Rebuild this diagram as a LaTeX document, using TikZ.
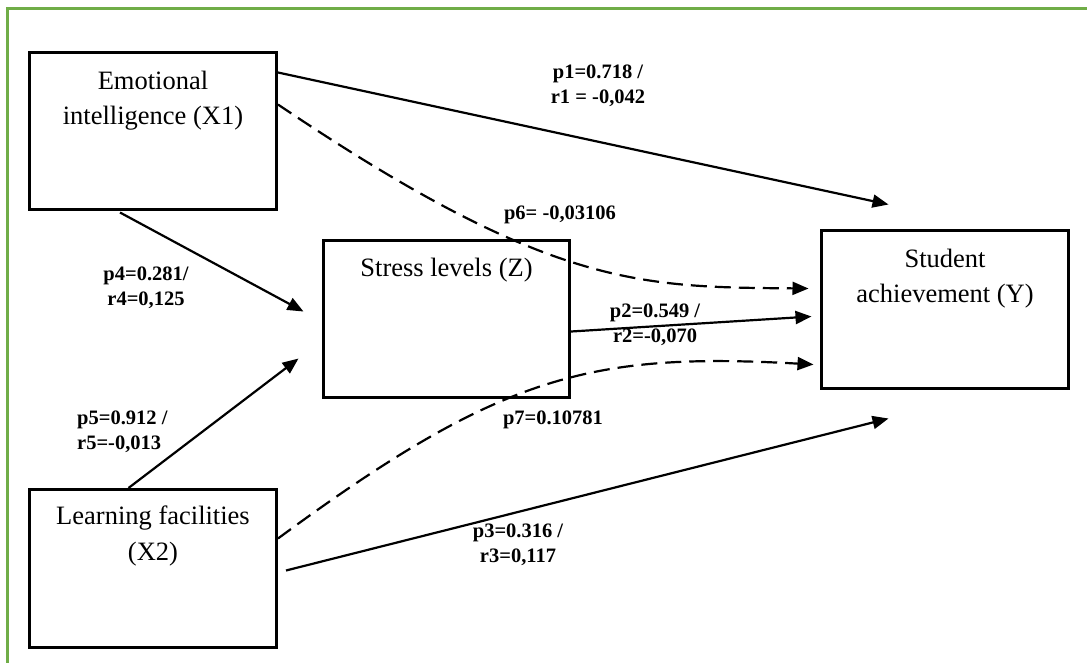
\documentclass[tikz,border=0pt]{standalone}
\usepackage{fontspec}
\setmainfont{Liberation Serif}
\usetikzlibrary{arrows.meta,calc}
\definecolor{framegreen}{HTML}{70AD47}
\begin{document}
\begin{tikzpicture}[x=1pt,y=-1pt,
  box/.style={draw=black, line width=3pt, minimum width=247pt, minimum height=157pt, inner sep=0pt, anchor=north west},
  boxtext/.style={font=\fontsize{26.5}{35.5}\selectfont, align=center, anchor=north, inner sep=0pt},
  lab/.style={font=\fontsize{20.5}{25}\selectfont\bfseries, align=center, inner sep=0pt},
  conn/.style={line width=2.2pt, -{Triangle[length=16pt,width=13pt]}},
  dconn/.style={conn, dash pattern=on 16pt off 8pt},
]
\clip (0,0) rectangle (1087,662);
\fill[white] (0,0) rectangle (1087,662);
\draw[framegreen, line width=3pt] (7,8) rectangle (1120,700);

% boxes
\node[box] (X1) at (28,51) {};
\node[box, minimum height=158pt] (X2) at (28,488) {};
\node[box, minimum width=246pt] (Z) at (322,239) {};
\node[box, minimum height=158pt] (Y) at (820,229) {};

% box texts
\node[boxtext] (X1t) at ($(X1.north)+(0,19.5)$) {Emotional\\intelligence (X1)};
\node[boxtext] (X2t) at ($(X2.north)+(0,18)$) {Learning facilities\\(X2)};
\node[boxtext] (Zt) at ($(Z.north)+(0,19)$) {Stress levels (Z)};
\node[boxtext] (Yt) at ($(Y.north)+(0,19.5)$) {Student\\achievement (Y)};

% start points
\coordinate (s1) at ($(X1.north east)+(0,21.5)$);
\coordinate (s6) at ($(X1.north east)+(0,53.5)$);
\coordinate (s4) at ($(X1.south)+(-33,1.5)$);
\coordinate (s5) at ($(X2.north)+(-24.5,0)$);
\coordinate (s7) at ($(X2.north east)+(0,50.5)$);
\coordinate (s3) at ($(X2.north east)+(8,82.5)$);
\coordinate (s2) at ($(Z.north east)+(0,92.5)$);
% tips
\coordinate (t1) at ($(Y.north west)+(68.5,-24.5)$);
\coordinate (t6) at ($(Y.north west)+(-11.5,59.5)$);
\coordinate (t2) at ($(Y.north west)+(-8.5,87.5)$);
\coordinate (t7) at ($(Y.north west)+(-6.5,135.5)$);
\coordinate (t3) at ($(Y.north west)+(68.5,189.5)$);
\coordinate (t4) at ($(Z.north west)+(-18.5,72.5)$);
\coordinate (t5) at ($(Z.north west)+(-23.5,119.5)$);

% connectors
\draw[conn] (s1) -- (t1);
\draw[dconn] (s6) .. controls (550,288) and (640,287) .. (t6);
\draw[conn] (s4) -- (t4);
\draw[conn] (s5) -- (t5);
\draw[conn] (s2) -- (t2);
\draw[dconn] (s7) .. controls (500,375) and (590,352) .. (t7);
\draw[conn] (s3) -- (t3);

% labels
\node[lab] (L1) at (598,86) {p1=0.718 /\\r1 = -0,042};
\node[lab] (L6) at (560,215) {p6= -0,03106};
\node[lab] (L4) at (146,288) {p4=0.281/\\r4=0,125};
\node[lab, align=left, anchor=west] (L5) at (77,432) {p5=0.912 /\\r5=-0,013};
\node[lab] (L2) at (655,325) {p2=0.549 /\\r2=-0,070};
\node[lab] (L7) at (553,420) {p7=0.10781};
\node[lab] (L3) at (518,545) {p3=0.316 /\\r3=0,117};
\end{tikzpicture}
\end{document}
